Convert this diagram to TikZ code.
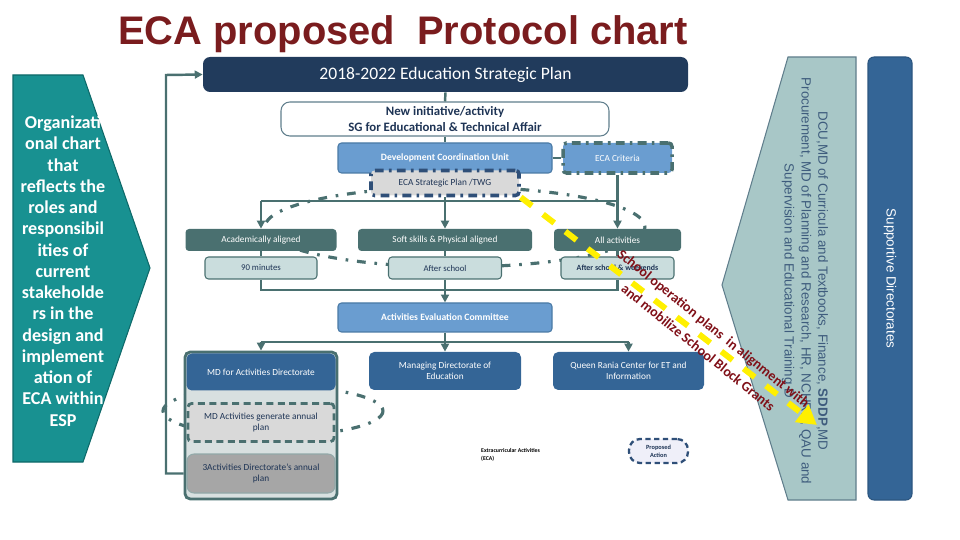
\documentclass[tikz,border=0pt]{standalone}
\usepackage{fontspec}
\setmainfont{Carlito}
\newfontfamily\arialfont{Liberation Sans}
\usetikzlibrary{arrows.meta}

\definecolor{titlered}{RGB}{122,28,30}
\definecolor{espnavy}{RGB}{33,59,92}
\definecolor{slate}{RGB}{74,112,112}
\definecolor{paleteal}{RGB}{202,221,221}
\definecolor{midblue}{RGB}{106,157,208}
\definecolor{midblueline}{RGB}{74,122,165}
\definecolor{steelblue}{RGB}{52,101,150}
\definecolor{panelteal}{RGB}{168,199,199}
\definecolor{panelline}{RGB}{96,126,140}
\definecolor{panelfont}{RGB}{62,92,125}
\definecolor{chevteal}{RGB}{24,145,145}
\definecolor{chevline}{RGB}{14,105,105}
\definecolor{navyfont}{RGB}{30,52,85}
\definecolor{dashnavy}{RGB}{47,79,120}
\definecolor{greyfill}{RGB}{217,217,217}
\definecolor{darkgrey}{RGB}{166,166,166}
\definecolor{mdfill}{RGB}{216,224,224}
\definecolor{planred}{RGB}{128,16,24}
\definecolor{yellowline}{RGB}{255,240,0}

\tikzset{bsize/.style 2 args={minimum width=#1*0.02cm,minimum height=#2*0.02cm}}

\begin{document}
\begin{tikzpicture}[x=0.02cm,y=-0.02cm,>={Triangle[length=4.5pt,width=4.5pt]}]

\tikzstyle{tinyfont}=[font=\fontsize{5.3}{6.4}\selectfont]
\tikzstyle{anybox}=[rectangle,inner sep=0pt,align=center,rounded corners=2pt,tinyfont]
\tikzstyle{darkbox}=[anybox,fill=slate,text=white]
\tikzstyle{lightbox}=[anybox,fill=paleteal,draw=slate,line width=0.6pt,text=navyfont,font=\fontsize{5}{6}\selectfont]
\tikzstyle{bluebox}=[anybox,fill=midblue,draw=midblueline,line width=0.6pt,text=white,font=\bfseries\fontsize{5.5}{6.5}\selectfont]
\tikzstyle{deepbox}=[anybox,fill=steelblue,text=white,rounded corners=3pt]
\tikzstyle{link}=[draw=slate,line width=1.4pt]
\tikzstyle{loopline}=[draw=slate,line width=1.8pt,dash pattern=on 5pt off 5pt on 1.5pt off 5pt]

\useasboundingbox (0,0) rectangle (960,540);

%% Title
\node[anchor=base,text=titlered,font=\arialfont\bfseries\fontsize{22.7}{26}\selectfont] (title) at (403,45) {ECA proposed\ \ Protocol chart};

%% Left chevron
\draw[fill=chevteal,draw=chevline,line width=0.6pt] (13,75) -- (83,75) -- (150,268) -- (83,462) -- (13,462) -- cycle;
\node[text=white,align=center,font=\bfseries\fontsize{10.3}{12.1}\selectfont] (orgtext) at (63,271)
  {Organizati\\onal chart\\that\\reflects the\\roles and\\responsibil\\ities of\\current\\stakeholde\\rs in the\\design and\\implement\\ation of\\ECA within\\ESP};

%% Right panels
\draw[fill=panelteal,draw=panelline,line width=0.6pt] (788,57) -- (856,57) -- (856,500) -- (788,500) -- (722,285) -- cycle;
\node[rotate=-90,text=panelfont,align=center,font=\arialfont\fontsize{7.6}{9.6}\selectfont] (dirtext) at (805,281)
  {DCU,MD of Curricula and Textbooks, Finance, \textbf{SDDP},MD\\Procurement, MD of Planning and Research, HR, NCHRD, QAU and\\Supervision and Educational Training D};
\node[rotate=-90,fill=steelblue,draw=steelblue!85!black,line width=0.6pt,rounded corners=0.12cm,bsize={443}{44},inner sep=0pt,text=white,font=\arialfont\fontsize{7.6}{9}\selectfont] (support) at (890,278.5) {Supportive Directorates};

%% dash-dot loops (behind the boxes)
\draw[loopline] (455,227) ellipse [x radius=190,y radius=40];
\draw[loopline] (273,411) ellipse [x radius=110,y radius=25];

%% Boxes
\node[anybox,fill=espnavy,rounded corners=4pt,bsize={485}{35},text=white,font=\fontsize{10}{12}\selectfont] (esp) at (445.5,74.5) {2018-2022 Education Strategic Plan};
\node[anybox,fill=white,draw=panelline,line width=0.6pt,rounded corners=5pt,bsize={328}{34},text=navyfont,font=\bfseries\fontsize{7.3}{9.2}\selectfont] (newinit) at (445,119) {New initiative/activity\\SG for Educational \& Technical Affair};
\node[bluebox,bsize={214}{30}] (dcu) at (445,158) {Development Coordination Unit};
\node[bluebox,bsize={109}{30},draw=slate,line width=2pt,dash pattern=on 5pt off 3pt on 1.5pt off 3pt,font=\fontsize{5.3}{6.4}\selectfont] (crit) at (617.5,158) {ECA Criteria};
\node[anybox,fill=greyfill,draw=dashnavy,line width=2pt,dash pattern=on 5pt off 3pt on 1.5pt off 3pt,bsize={148}{25},text=navyfont] (twg) at (445,183) {ECA Strategic Plan /TWG};

\node[darkbox,bsize={151}{22}] (acad) at (261,240) {Academically aligned};
\node[darkbox,bsize={174}{22}] (soft) at (445,240) {Soft skills \& Physical aligned};
\node[darkbox,bsize={127}{22}] (allact) at (617.5,240) {All activities};
\node[lightbox,bsize={112}{22}] (min90) at (261,268) {90 minutes};
\node[lightbox,bsize={113}{22}] (after) at (445,268) {After school};
\node[lightbox,bsize={113}{22},font=\bfseries\fontsize{4.5}{5.5}\selectfont] (weekend) at (617.5,268) {After school \& weekends};

\node[bluebox,bsize={214}{29}] (aec) at (445,317.5) {Activities Evaluation Committee};

\node[anybox,fill=mdfill,draw=slate,line width=1.6pt,rounded corners=3pt,bsize={152}{147}] (mdcol) at (261,425.5) {};
\node[deepbox,bsize={149}{37}] (mdhead) at (261,372) {MD for Activities Directorate};
\node[anybox,fill=greyfill,draw=slate,line width=1.6pt,dash pattern=on 4pt off 2.5pt,bsize={146}{38},text=navyfont] (genplan) at (261,422.5) {MD Activities generate annual\\plan};
\node[anybox,fill=darkgrey,draw=slate!60,line width=0.6pt,rounded corners=4pt,bsize={148}{39},text=navyfont] (annual) at (261,473.5) {3Activities Directorate's annual\\plan};
\node[deepbox,bsize={152}{38}] (managing) at (445,371) {Managing Directorate of\\Education};
\node[deepbox,bsize={151}{38}] (queen) at (628.5,371) {Queen Rania Center for ET and\\Information};

\node[anchor=west,align=left,font=\bfseries\fontsize{3.3}{4.2}\selectfont] (ecalabel) at (475,455) {Extracurricular Activities\\(ECA)};
\node[anybox,fill=greyfill!80!blue!20!white,draw=dashnavy,line width=1.3pt,dash pattern=on 3pt off 2pt,rounded corners=0.22cm,bsize={59}{24},text=navyfont,font=\bfseries\fontsize{3.6}{4.4}\selectfont] (proposed) at (658.5,451) {Proposed\\Action};

%% Connectors
\coordinate (busA) at (445,201);
\coordinate (busB) at (445,290);
\coordinate (busC) at (445,342);
\coordinate (loopturn) at (166,75);

\draw[link] (esp.south) -- (newinit.north);
\draw[link] (newinit.south) -- (dcu.north);
\draw[link] (dcu.east) -- (crit.west);
\draw[link] (twg.south) -- (busA);
\draw[link] (acad.north |- busA) -- (allact.north |- busA);
\draw[link,->] (acad.north |- busA) -- (acad.north);
\draw[link,->] (busA) -- (soft.north);
\draw[link,->] (crit.south) -- (allact.north);
\draw[link] (acad.south) -- (min90.north);
\draw[link] (soft.south) -- (after.north);
\draw[link] (allact.south) -- (weekend.north);
\draw[link] (min90.south) |- (weekend.south |- busB) -- (weekend.south);
\draw[link] (after.south) -- (busB);
\draw[link,->] (busB) -- (aec.north);
\draw[link] (aec.south) -- (busC);
\draw[link] (mdcol.north |- busC) -- (queen.north |- busC);
\draw[link,->] (mdcol.north |- busC) -- (mdcol.north);
\draw[link,->] (busC) -- (managing.north);
\draw[link,->] (queen.north |- busC) -- (queen.north);
\draw[link,->] (mdcol.west |- annual.west) -| (loopturn) -- (esp.west);

%% School plans arrow
\coordinate (ytip) at (817,425);
\draw[yellowline,line width=3.4pt,dash pattern=on 8pt off 8pt,-{Triangle[length=11pt,width=12pt]}] (twg.south east) -- (ytip);
\node[rotate=-39,text=planred,align=center,font=\bfseries\fontsize{8}{14}\selectfont] (schoolplan) at (706,338)
  {School operation plans\ \ in alignment with\\and mobilize School Block Grants};

\end{tikzpicture}
\end{document}
